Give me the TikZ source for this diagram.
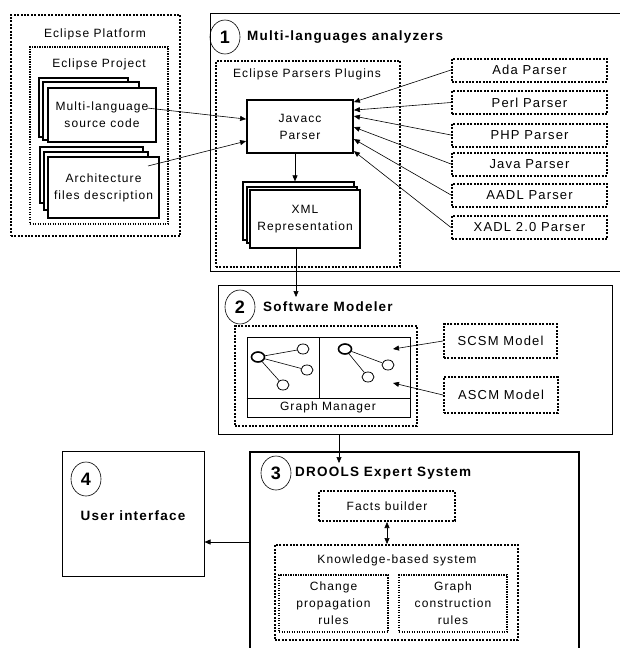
\documentclass[tikz,border=0pt]{standalone}
\usepackage{fontspec}
\newfontfamily\diagfont{Liberation Sans}[LetterSpace=9]
\usetikzlibrary{arrows.meta,shapes.geometric,positioning}
\newcommand\diagtxt{\diagfont\fontsize{12}{17}\selectfont}
\newcommand\diagbig{\diagfont\fontsize{13}{17}\selectfont}
\newcommand\diagtitle{\diagfont\bfseries\fontsize{13.5}{17}\selectfont}
\newcommand\diagnum{\diagfont\bfseries\fontsize{18}{18}\selectfont}
\begin{document}
\begin{tikzpicture}[x=1pt, y=-1pt, >={Triangle[length=6pt,width=5pt]}, font=\diagtxt,
  dotbox/.style={draw, line width=2pt, dash pattern=on 2pt off 1.4pt, inner sep=0pt},
  thindot/.style={draw, line width=1.3pt, dash pattern=on 1.3pt off 1.2pt, inner sep=0pt},
  plain/.style={draw, line width=0.8pt, inner sep=0pt},
  sheet/.style={draw, line width=1.2pt, fill=white, inner sep=0pt, align=center},
  numcirc/.style={draw, ellipse, line width=0.6pt, minimum width=30pt, minimum height=34pt, inner sep=0pt, font=\diagnum},
  title/.style={anchor=west, font=\diagtitle, inner sep=0pt},
  gnode/.style={draw, ellipse, line width=0.8pt, fill=white, minimum width=12pt, minimum height=10pt, inner sep=0pt},
  gbig/.style={gnode, line width=1.6pt, minimum width=13pt},
  link/.style={line width=0.6pt},
  arr/.style={->, line width=0.6pt}]
\useasboundingbox (0,0) rectangle (620,648);
\clip (0,0) rectangle (620,648);
% eclipse side
\node[dotbox, minimum width=169pt, minimum height=221pt] (plat) at (95.5,125.5) {};
\node (platlbl) at (95,34) {Eclipse Platform};
\node[thindot, minimum width=138pt, minimum height=177pt] (proj) at (99,135.5) {};
\node (projlbl) at (99,64) {Eclipse Project};
\node[sheet, minimum width=89pt, minimum height=59pt] (src3) at (83.5,107.5) {};
\node[sheet, minimum width=96pt, minimum height=58pt] (src2) at (91,111) {};
\node[sheet, minimum width=108pt, minimum height=54pt] (src) at (102,115) {Multi-language\\source code};
\node[sheet, minimum width=103pt, minimum height=56pt] (arch3) at (91.5,175) {};
\node[sheet, minimum width=104pt, minimum height=58pt] (arch2) at (96,181) {};
\node[sheet, minimum width=111pt, minimum height=61pt] (arch) at (103.5,187.5) {Architecture\\files description};
% 1
\node[plain, minimum width=415pt, minimum height=258pt] (ana) at (417.5,142) {};
\node[numcirc] (c1) at (225,37) {1};
\node[title] (t1) at (247,37) {Multi-languages analyzers};
\node[dotbox, minimum width=184pt, minimum height=206pt] (plug) at (308,164) {};
\node (pluglbl) at (307,74) {Eclipse Parsers Plugins};
\node[draw, line width=1.8pt, minimum width=106pt, minimum height=53pt, align=center] (javacc) at (300,126.5) {Javacc\\Parser};
\node[sheet, minimum width=111pt, minimum height=58pt] (xml3) at (298.5,211) {};
\node[sheet, minimum width=110pt, minimum height=56pt] (xml2) at (302,215) {};
\node[sheet, minimum width=110pt, minimum height=58pt] (xml) at (305,219) {XML\\Representation};
\draw[arr] ([xshift=-5pt]javacc.south) -- ([xshift=-5pt]javacc.south |- xml3.north);
\foreach \n/\y/\t in {ada/70/Ada Parser, perl/102.5/Perl Parser, php/135/PHP Parser, java/164/Java Parser, aadl/195/AADL Parser, xadl/227.5/XADL 2.0 Parser}
  \node[dotbox, minimum width=155pt, minimum height=23pt, font=\diagbig] (\n) at (529.5,\y) {\t};
\foreach \n/\s in {ada/-3, perl/-11, php/-17, java/-28, aadl/-40, xadl/-52}
  \draw[arr] (\n.west) -- ([yshift=\s pt]javacc.north east);
\coordinate (srcpt) at (147,108);
\coordinate (archpt) at (148,166);
\draw[arr] (srcpt) -- ([yshift=-20pt]javacc.north west);
\draw[arr] (archpt) -- ([yshift=-42pt]javacc.north west);
% 2
\node[plain, minimum width=394pt, minimum height=149pt] (mod) at (415,359.5) {};
\node[numcirc] (c2) at (240,307) {2};
\node[title] (t2) at (263,307) {Software Modeler};
\coordinate (modin) at (296,297);
\draw[arr] (xml.south -| modin) -- (modin);
\node[dotbox, minimum width=182pt, minimum height=100pt] (gmout) at (326,376) {};
\node[plain, minimum width=163pt, minimum height=80pt] (gm) at (328.5,377) {};
\coordinate (gmsplit) at (319,398);
\draw[line width=0.8pt] (gm.west |- gmsplit) -- (gm.east |- gmsplit) (gmsplit) -- (gmsplit |- gm.north);
\node (gmlbl) at (328,407.5) {Graph Manager};
\node[gbig] (g0) at (258,357) {};
\foreach \n/\x/\y in {g1/303/349, g2/307/370, g3/283/385}{
  \node[gnode] (\n) at (\x,\y) {};
  \draw[link] (g0) -- (\n);
}
\node[gbig] (h0) at (345,349) {};
\foreach \n/\x/\y in {h1/388/365, h2/368/377}{
  \node[gnode] (\n) at (\x,\y) {};
  \draw[link] (h0) -- (\n);
}
\node[dotbox, minimum width=113pt, minimum height=34pt, font=\diagbig] (scsm) at (500.5,341) {SCSM Model};
\node[dotbox, minimum width=114pt, minimum height=36pt, font=\diagbig] (ascm) at (501,395) {ASCM Model};
\coordinate (scsmpt) at (393,349);
\coordinate (ascmpt) at (393,383);
\draw[arr] (scsm.west) -- (scsmpt);
\draw[arr] (ascm.west) -- (ascmpt);
% 3
\node[draw, line width=2pt, minimum width=329pt, minimum height=248pt] (drools) at (414.5,576) {};
\node[numcirc] (c3) at (276,473) {3};
\node[title] (t3) at (295,473) {DROOLS Expert System};
\coordinate (droolsin) at (339,463);
\draw[arr] (mod.south -| droolsin) -- (droolsin);
\node[dotbox, minimum width=136pt, minimum height=30pt] (facts) at (387,506) {Facts builder};
\node[dotbox, minimum width=243pt, minimum height=95pt] (kb) at (396.5,592.5) {};
\node (kblbl) at (397,560) {Knowledge-based system};
\node[thindot, minimum width=109pt, minimum height=57pt, align=center] (change) at (333.5,603.5) {Change\\propagation\\rules};
\node[thindot, minimum width=108pt, minimum height=57pt, align=center] (graph) at (453,603.5) {Graph\\construction\\rules};
\draw[<->, line width=0.6pt] (facts.south) -- (facts.south |- kb.north);
% 4
\node[draw, line width=1pt, minimum width=142pt, minimum height=125pt] (ui) at (133,513.5) {};
\node[numcirc] (c4) at (86,479) {4};
\node[font=\diagtitle] (t4) at (133,516) {User interface};
\coordinate (uilink) at (0,542);
\draw[arr] (drools.west |- uilink) -- (ui.east |- uilink);
\end{tikzpicture}
\end{document}
